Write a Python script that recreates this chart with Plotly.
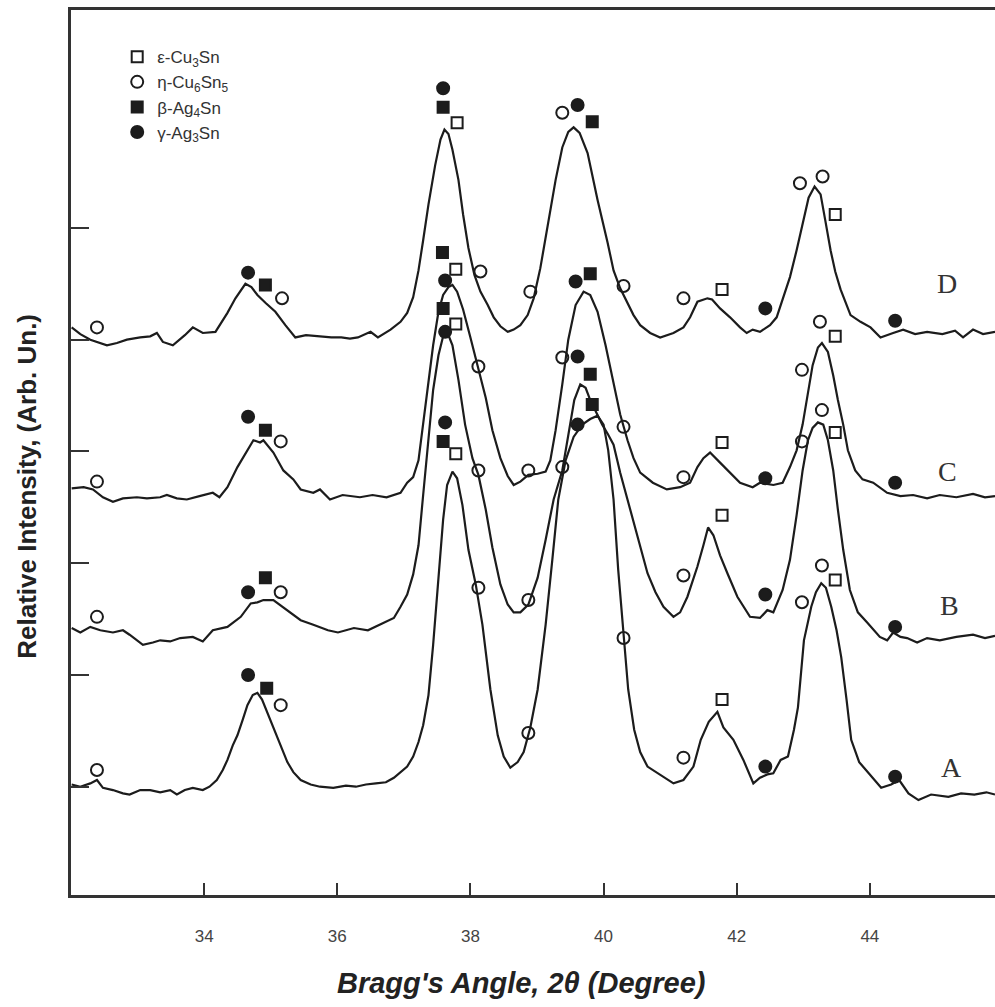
import plotly.graph_objects as go

# ---------------- data ----------------
# 2-theta (degree) and relative intensity (arb. units, curves already stacked)
tt_D = [32.01,32.14,32.29,32.54,32.69,32.84,33.04,33.19,33.29,33.38,33.53,33.71,33.83,33.98,34.17,34.35,34.47,34.62,34.71,34.80,34.92,35.07,35.22,35.37,35.53,35.71,35.91,36.06,36.19,36.31,36.50,36.61,36.80,36.95,37.05,37.14,37.22,37.29,37.37,37.47,37.55,37.61,37.67,37.73,37.82,37.89,37.97,38.06,38.15,38.26,38.35,38.45,38.56,38.65,38.75,38.86,38.95,39.05,39.16,39.28,39.38,39.47,39.55,39.64,39.76,39.91,40.06,40.15,40.25,40.36,40.45,40.55,40.70,40.85,41.05,41.20,41.30,41.41,41.56,41.63,41.75,41.90,42.05,42.15,42.24,42.35,42.50,42.60,42.69,42.80,42.90,42.99,43.08,43.17,43.26,43.33,43.41,43.48,43.56,43.71,43.86,44.01,44.16,44.35,44.50,44.68,44.86,45.09,45.28,45.40,45.55,45.70,45.88]
int_D = [511,505,500,495,497,500,502,503,506,498,495,504,511,506,507,524,537,550,547,540,533,525,513,502,504,503,502,502,501,502,507,502,509,516,524,538,562,589,621,656,679,688,684,670,643,612,582,558,543,531,520,512,507,509,513,522,537,564,603,643,672,686,690,685,667,625,587,562,546,533,522,513,506,502,506,511,520,534,537,536,528,520,511,506,509,507,513,520,536,556,580,605,627,637,630,607,580,561,545,522,516,511,502,506,509,505,507,505,508,502,509,505,507]

tt_C = [32.01,32.19,32.33,32.48,32.63,32.78,32.99,33.14,33.34,33.44,33.59,33.74,33.93,34.13,34.23,34.35,34.50,34.65,34.74,34.84,34.89,35.04,35.19,35.34,35.45,35.64,35.74,35.89,36.08,36.34,36.53,36.74,36.95,37.05,37.14,37.22,37.29,37.37,37.44,37.52,37.59,37.67,37.73,37.80,37.89,38.00,38.12,38.23,38.33,38.45,38.56,38.65,38.75,38.87,39.01,39.13,39.20,39.28,39.38,39.47,39.58,39.70,39.80,39.91,40.03,40.15,40.25,40.36,40.45,40.55,40.74,40.95,41.15,41.30,41.41,41.50,41.60,41.75,41.90,42.05,42.24,42.35,42.55,42.69,42.80,42.90,42.99,43.07,43.14,43.22,43.28,43.37,43.45,43.52,43.60,43.67,43.78,43.89,44.05,44.26,44.46,44.65,44.86,45.05,45.30,45.55,45.73,45.88]
int_C = [367,368,366,359,355,358,359,358,359,361,358,357,360,363,359,368,386,401,410,408,410,399,383,375,366,363,366,357,361,359,361,359,363,372,377,392,424,460,495,525,540,547,549,543,527,502,475,448,419,394,378,370,373,379,380,382,392,419,460,500,531,543,540,525,495,460,433,410,394,381,372,366,368,372,386,394,399,390,381,372,368,372,370,372,386,401,424,451,477,493,497,489,468,446,424,401,383,375,372,363,360,361,358,361,359,362,359,360]

tt_B = [32.01,32.14,32.29,32.44,32.63,32.78,32.88,33.08,33.23,33.34,33.49,33.64,33.83,33.98,34.13,34.35,34.55,34.70,34.80,34.89,35.04,35.25,35.45,35.64,35.86,36.01,36.25,36.46,36.65,36.85,36.95,37.05,37.14,37.22,37.29,37.37,37.44,37.52,37.59,37.65,37.73,37.82,37.92,38.03,38.12,38.23,38.33,38.45,38.56,38.65,38.75,38.87,39.01,39.13,39.25,39.38,39.47,39.56,39.65,39.73,39.80,39.89,39.98,40.07,40.15,40.25,40.36,40.45,40.55,40.66,40.78,40.90,41.05,41.15,41.26,41.41,41.50,41.57,41.65,41.75,41.86,42.01,42.20,42.35,42.46,42.55,42.69,42.80,42.90,42.99,43.07,43.14,43.22,43.30,43.37,43.45,43.52,43.60,43.70,43.82,43.96,44.15,44.26,44.35,44.46,44.56,44.71,44.86,45.05,45.30,45.55,45.73,45.88]
int_B = [242,238,243,240,238,240,236,227,229,231,230,233,234,230,240,243,252,264,265,267,267,258,249,245,240,238,242,240,245,251,261,272,290,316,361,410,455,486,503,507,495,464,424,394,379,348,314,281,263,256,256,263,287,321,357,383,415,446,460,457,446,435,424,415,406,381,357,336,314,291,274,261,252,256,270,297,316,332,325,307,291,270,252,251,258,256,276,303,343,383,410,421,426,424,410,383,348,312,276,256,247,234,231,238,234,233,229,233,231,234,236,233,235]

tt_A = [32.01,32.14,32.29,32.39,32.48,32.63,32.78,32.88,33.04,33.19,33.34,33.49,33.59,33.71,33.83,33.98,34.08,34.19,34.28,34.35,34.43,34.50,34.58,34.65,34.73,34.80,34.87,34.95,35.04,35.14,35.25,35.34,35.45,35.60,35.74,35.94,36.13,36.28,36.43,36.58,36.73,36.85,36.95,37.05,37.14,37.22,37.29,37.37,37.44,37.52,37.59,37.65,37.73,37.80,37.88,37.97,38.08,38.18,38.30,38.41,38.50,38.60,38.71,38.80,38.90,39.01,39.13,39.23,39.32,39.43,39.55,39.68,39.80,39.91,40.00,40.07,40.15,40.22,40.30,40.37,40.46,40.55,40.66,40.81,40.93,41.05,41.20,41.35,41.46,41.58,41.71,41.80,41.95,42.10,42.25,42.35,42.46,42.55,42.66,42.77,42.86,42.92,43.01,43.12,43.19,43.27,43.34,43.42,43.50,43.57,43.65,43.72,43.84,43.98,44.17,44.32,44.44,44.58,44.73,44.92,45.18,45.37,45.57,45.75,45.88]
int_A = [102,100,103,106,99,97,94,93,97,97,95,97,93,97,99,97,100,106,115,124,137,146,160,173,182,184,178,166,153,137,122,113,106,102,100,99,101,100,102,103,104,108,113,118,127,140,155,182,227,285,339,370,382,376,352,312,281,245,187,146,127,117,122,131,153,187,245,303,357,392,413,424,429,432,424,401,357,294,236,187,151,131,118,112,108,103,106,118,142,158,167,153,142,124,103,108,111,112,124,127,151,171,231,261,274,282,278,261,240,216,178,142,122,112,99,102,106,94,88,93,91,94,93,95,93]

# phase markers (2-theta, intensity)
eps_x = [37.80,41.78,43.48, 37.78,41.78,43.48, 37.78,41.78,43.48, 37.78,41.78,43.48]
eps_y = [694,545,612, 563,408,503, 514,343,417, 398,178,285]
eta_x = [32.39,35.17,38.15,38.90,39.38,40.30,41.20,42.95,43.29,
         32.39,35.15,38.12,38.87,39.38,40.30,41.20,42.98,43.25,
         32.39,35.15,38.12,38.87,39.38,41.20,42.98,43.28,
         32.39,35.15,38.12,38.87,40.30,41.20,42.98,43.28]
eta_y = [511,537,561,543,703,548,537,640,646,
         373,409,476,383,484,422,377,473,516,
         252,274,383,267,386,289,409,437,
         115,173,278,148,233,126,265,298]
beta_x = [34.92,37.59,39.83, 34.92,37.58,39.80, 34.92,37.59,39.80, 34.94,37.59,39.83]
beta_y = [549,708,695, 419,578,559, 287,528,469, 188,409,442]
gamma_x = [34.66,37.59,39.61,42.43,44.38, 34.66,37.62,39.58,42.43,44.38,
           34.66,37.62,39.61,42.43,44.38, 34.66,37.62,39.61,42.43,44.38]
gamma_y = [560,725,710,528,517, 431,553,552,376,372,
           274,507,485,272,243, 200,426,424,118,109]

curve_names = ["D", "C", "B", "A"]
label_x = [45.16, 45.16, 45.2, 45.22]
label_y = [550, 382, 262, 117]

x_ticks = [34, 36, 38, 40, 42, 44]
y_ticks = [100, 200, 300, 400, 500, 600]

phase_names = ["ε-Cu<sub>3</sub>Sn", "η-Cu<sub>6</sub>Sn<sub>5</sub>",
               "β-Ag<sub>4</sub>Sn", "γ-Ag<sub>3</sub>Sn"]

# ---------------- figure ----------------
INK = "#1c1c1c"
fig = go.Figure()

for xs, ys in [(tt_D, int_D), (tt_C, int_C), (tt_B, int_B), (tt_A, int_A)]:
    fig.add_trace(go.Scatter(x=xs, y=ys, mode="lines",
                             line=dict(color=INK, width=2.2),
                             showlegend=False, hoverinfo="skip"))

marker_specs = [
    (eps_x, eps_y, "square-open", 11),
    (eta_x, eta_y, "circle-open", 12),
    (beta_x, beta_y, "square", 11),
    (gamma_x, gamma_y, "circle", 12),
]
for i, (xs, ys, sym, sz) in enumerate(marker_specs):
    fig.add_trace(go.Scatter(
        x=xs, y=ys, mode="markers", name=phase_names[i], legendgroup=f"g{i}",
        marker=dict(symbol=sym, size=sz, color=INK,
                    line=dict(color=INK, width=2)),
        hoverinfo="skip"))

for name, lx, ly in zip(curve_names, label_x, label_y):
    fig.add_annotation(x=lx, y=ly, text=name, showarrow=False,
                       font=dict(family="Liberation Serif", size=28, color="#333"))

fig.add_annotation(xref="paper", yref="paper", x=0.487, y=-0.099,
                   yanchor="middle",
                   text="<b><i>Bragg's Angle, 2θ (Degree)</i></b>", showarrow=False,
                   font=dict(family="Liberation Sans", size=29, color="#222"))
fig.add_annotation(xref="paper", yref="paper", x=-0.048, y=0.462, textangle=-90,
                   xanchor="center",
                   text="<b>Relative Intensity, (Arb. Un.)</b>", showarrow=False,
                   font=dict(family="Liberation Sans", size=26, color="#222"))

fig.update_layout(
    width=995, height=1007,
    margin=dict(l=71, r=0, t=10, b=112),
    plot_bgcolor="white", paper_bgcolor="white",
    showlegend=True,
    legend=dict(x=0.05, y=0.967, xanchor="left", yanchor="top",
                font=dict(family="Liberation Sans", size=17, color="#333"),
                bgcolor="rgba(0,0,0,0)", tracegroupgap=0, traceorder="grouped"),
    xaxis=dict(range=[32.0, 45.88], tickvals=x_ticks, ticks="inside", ticklen=12,
               tickwidth=2, tickcolor="#333", showline=True, linewidth=2.5,
               linecolor="#333", mirror=True, showgrid=False, zeroline=False,
               ticklabelstandoff=24,
               tickfont=dict(family="Liberation Sans", size=17, color="#444")),
    yaxis=dict(range=[3.1, 795], tickvals=y_ticks, ticks="inside", ticklen=18,
               tickwidth=2, tickcolor="#333", showticklabels=False, showline=True,
               linewidth=2.5, linecolor="#333", mirror=False, showgrid=False,
               zeroline=False),
)

fig.write_html("out.html")
